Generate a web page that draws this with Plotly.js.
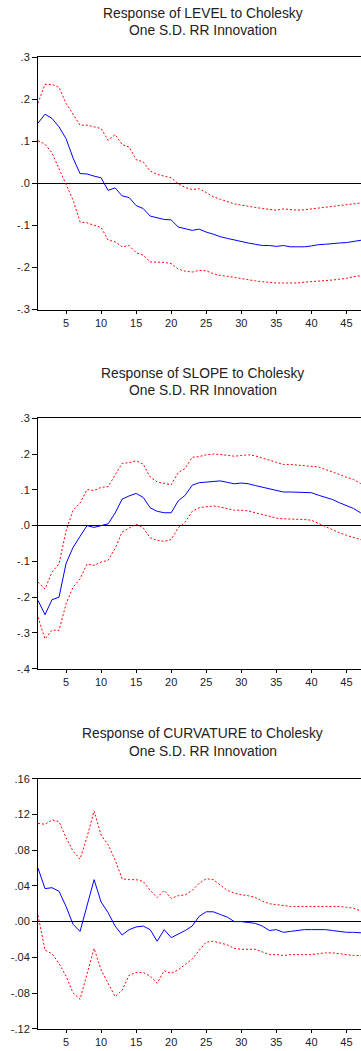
<!DOCTYPE html>
<html>
<head>
<meta charset="utf-8">
<script src="https://cdn.plot.ly/plotly-3.0.1.min.js"></script>
<style>
html,body{margin:0;padding:0;background:#fff;overflow:hidden;}
#chart{width:361px;height:1051px;}
</style>
</head>
<body>
<div id="chart"></div>
<script>
// Periods 1..48
const periods = Array.from({length: 48}, (_, i) => i + 1);

// Panel titles
const titleLevel = ["Response of LEVEL to Cholesky", "One S.D. RR Innovation"];
const titleSlope = ["Response of SLOPE to Cholesky", "One S.D. RR Innovation"];
const titleCurv  = ["Response of CURVATURE to Cholesky", "One S.D. RR Innovation"];

// LEVEL
const levelResp = [0.143,0.164,0.154,0.134,0.106,0.060,0.023,0.022,0.017,0.013,-0.017,-0.011,-0.030,-0.034,-0.053,-0.060,-0.078,-0.082,-0.086,-0.087,-0.104,-0.108,-0.112,-0.109,-0.116,-0.121,-0.127,-0.131,-0.135,-0.139,-0.142,-0.145,-0.148,-0.148,-0.150,-0.148,-0.151,-0.151,-0.151,-0.149,-0.146,-0.145,-0.143,-0.142,-0.141,-0.138,-0.135,-0.133];
const levelUp   = [0.190,0.235,0.235,0.228,0.190,0.165,0.138,0.138,0.134,0.130,0.102,0.116,0.092,0.086,0.056,0.051,0.029,0.021,0.017,0.013,-0.001,-0.010,-0.015,-0.013,-0.022,-0.032,-0.038,-0.044,-0.049,-0.052,-0.055,-0.058,-0.060,-0.062,-0.064,-0.061,-0.063,-0.064,-0.063,-0.061,-0.059,-0.058,-0.056,-0.054,-0.051,-0.049,-0.047,-0.045];
const levelLo   = [0.101,0.093,0.072,0.035,0.001,-0.040,-0.092,-0.094,-0.100,-0.105,-0.135,-0.139,-0.151,-0.148,-0.165,-0.171,-0.187,-0.188,-0.188,-0.191,-0.204,-0.209,-0.211,-0.207,-0.208,-0.215,-0.219,-0.221,-0.224,-0.226,-0.230,-0.232,-0.234,-0.236,-0.237,-0.237,-0.237,-0.237,-0.235,-0.234,-0.232,-0.231,-0.230,-0.228,-0.226,-0.222,-0.220,-0.218];

// SLOPE
const slopeResp = [-0.209,-0.249,-0.207,-0.200,-0.106,-0.061,-0.030,0.000,-0.005,-0.001,0.005,0.035,0.074,0.083,0.090,0.079,0.050,0.040,0.036,0.036,0.069,0.085,0.113,0.120,0.122,0.125,0.125,0.121,0.117,0.119,0.117,0.112,0.107,0.103,0.099,0.094,0.094,0.094,0.094,0.092,0.085,0.079,0.073,0.064,0.055,0.048,0.036,0.030];
const slopeUp   = [-0.158,-0.177,-0.130,-0.107,-0.015,0.043,0.063,0.101,0.098,0.107,0.109,0.141,0.174,0.176,0.181,0.172,0.136,0.122,0.118,0.114,0.148,0.160,0.191,0.193,0.198,0.200,0.199,0.196,0.194,0.196,0.198,0.195,0.188,0.183,0.177,0.171,0.171,0.169,0.167,0.167,0.164,0.157,0.151,0.143,0.135,0.129,0.118,0.110];
const slopeLo   = [-0.256,-0.317,-0.292,-0.293,-0.219,-0.172,-0.149,-0.107,-0.111,-0.102,-0.097,-0.064,-0.018,-0.006,0.004,-0.006,-0.034,-0.041,-0.044,-0.039,-0.006,0.010,0.040,0.050,0.052,0.055,0.052,0.047,0.043,0.043,0.041,0.036,0.031,0.025,0.021,0.019,0.019,0.018,0.017,0.015,0.006,-0.002,-0.010,-0.020,-0.027,-0.034,-0.039,-0.043];

// CURVATURE
const curvResp = [0.060,0.037,0.038,0.034,0.017,-0.003,-0.011,0.017,0.047,0.022,0.010,-0.005,-0.015,-0.009,-0.006,-0.005,-0.009,-0.022,-0.009,-0.018,-0.014,-0.010,-0.005,0.006,0.011,0.011,0.008,0.005,0.000,0.000,-0.001,-0.002,-0.005,-0.010,-0.009,-0.012,-0.011,-0.010,-0.009,-0.009,-0.009,-0.009,-0.010,-0.011,-0.012,-0.012,-0.013,-0.013];
const curvUp   = [0.110,0.109,0.114,0.112,0.094,0.079,0.070,0.095,0.124,0.097,0.086,0.069,0.048,0.047,0.047,0.045,0.035,0.027,0.035,0.026,0.029,0.030,0.035,0.043,0.048,0.047,0.041,0.035,0.032,0.030,0.029,0.027,0.023,0.020,0.019,0.018,0.017,0.017,0.017,0.017,0.017,0.017,0.017,0.017,0.016,0.015,0.012,0.011];
const curvLo   = [0.007,-0.032,-0.036,-0.047,-0.061,-0.080,-0.087,-0.060,-0.030,-0.054,-0.069,-0.084,-0.077,-0.060,-0.057,-0.057,-0.061,-0.069,-0.055,-0.058,-0.054,-0.048,-0.042,-0.032,-0.023,-0.022,-0.024,-0.026,-0.030,-0.031,-0.031,-0.031,-0.034,-0.037,-0.037,-0.038,-0.037,-0.037,-0.037,-0.037,-0.036,-0.035,-0.035,-0.036,-0.037,-0.038,-0.038,-0.039];

// Tick values / labels
const xTickVals = [5,10,15,20,25,30,35,40,45];
const xTickText = ["5","10","15","20","25","30","35","40","45"];
const yTickVals1 = [-0.3,-0.2,-0.1,0,0.1,0.2,0.3];
const yTickText1 = ["-.3","-.2","-.1",".0",".1",".2",".3"];
const yTickVals2 = [-0.4,-0.3,-0.2,-0.1,0,0.1,0.2,0.3];
const yTickText2 = ["-.4","-.3","-.2","-.1",".0",".1",".2",".3"];
const yTickVals3 = [-0.12,-0.08,-0.04,0,0.04,0.08,0.12,0.16];
const yTickText3 = ["-.12","-.08","-.04",".00",".04",".08",".12",".16"];

const H = 1051;
const FONT = "Liberation Sans, Arial, sans-serif";
const blue = "#0000ff";
const red = "#ff0000";

function traces(resp, up, lo, xa, ya) {
  return [
    {x: periods, y: up, xaxis: xa, yaxis: ya, type: "scatter", mode: "lines",
     line: {color: red, width: 1, dash: "2px,2px"}, hoverinfo: "skip"},
    {x: periods, y: lo, xaxis: xa, yaxis: ya, type: "scatter", mode: "lines",
     line: {color: red, width: 1, dash: "2px,2px"}, hoverinfo: "skip"},
    {x: periods, y: resp, xaxis: xa, yaxis: ya, type: "scatter", mode: "lines",
     line: {color: blue, width: 1}, hoverinfo: "skip"}
  ];
}

const data = [].concat(
  traces(levelResp, levelUp, levelLo, "x", "y"),
  traces(slopeResp, slopeUp, slopeLo, "x2", "y2"),
  traces(curvResp, curvUp, curvLo, "x3", "y3")
);

function dom(topPx, botPx) { return [1 - botPx / H, 1 - topPx / H]; }

const xRange = [1, 1 + 323 / 7.01];
function xAxis(anchor) {
  return {
    anchor: anchor, domain: [0, 1], range: xRange,
    showline: true, linecolor: "#000", linewidth: 1, mirror: true,
    ticks: "outside", ticklen: 3, tickcolor: "#000", tickwidth: 1,
    tickvals: xTickVals, ticktext: xTickText,
    showgrid: false, zeroline: false,
    tickfont: {family: FONT, size: 11, color: "#222"}
  };
}
function yAxis(anchor, domain, range, tv, tt) {
  return {
    anchor: anchor, domain: domain, range: range,
    showline: true, linecolor: "#000", linewidth: 1,
    ticks: "outside", ticklen: 5, tickcolor: "#000", tickwidth: 1,
    tickvals: tv, ticktext: tt,
    showgrid: false, zeroline: true, zerolinecolor: "#000", zerolinewidth: 1,
    tickfont: {family: FONT, size: 11, color: "#222"}
  };
}

const titleX = (202.5 - 38) / 323;
function titleAnn(text, yPx) {
  return {text: text, xref: "paper", yref: "paper", x: titleX, y: 1 - yPx / H,
          xanchor: "center", yanchor: "middle", showarrow: false,
          font: {family: FONT, size: 13.8, color: "#222"}};
}

const layout = {
  width: 361, height: 1051,
  margin: {l: 38, r: 0, t: 0, b: 0, pad: 0},
  paper_bgcolor: "#fff", plot_bgcolor: "#fff",
  showlegend: false,
  xaxis: xAxis("y"),
  xaxis2: xAxis("y2"),
  xaxis3: xAxis("y3"),
  yaxis: yAxis("x", dom(57, 309.5), [-0.3, 0.3], yTickVals1, yTickText1),
  yaxis2: yAxis("x2", dom(418.3, 668.7), [-0.4, 0.3], yTickVals2, yTickText2),
  yaxis3: yAxis("x3", dom(778.8, 1028.7), [-0.12, 0.16], yTickVals3, yTickText3),
  annotations: [
    titleAnn(titleLevel[0], 13.3), titleAnn(titleLevel[1], 30.7),
    titleAnn(titleSlope[0], 373.3), titleAnn(titleSlope[1], 391),
    titleAnn(titleCurv[0], 733.3), titleAnn(titleCurv[1], 751)
  ]
};

Plotly.newPlot("chart", data, layout, {staticPlot: true, displayModeBar: false});
</script>
</body>
</html>
